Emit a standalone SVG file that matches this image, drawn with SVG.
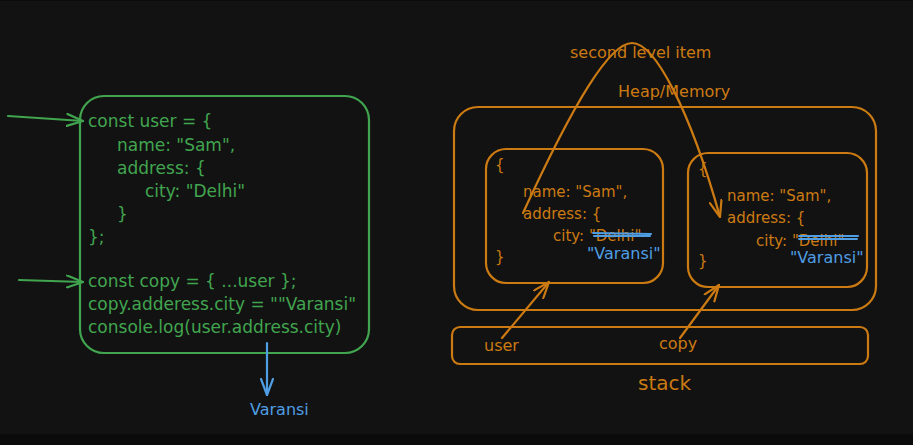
<svg xmlns="http://www.w3.org/2000/svg" width="913" height="445" viewBox="0 0 913 445">
<defs>
<style>
.bg{fill:#121212}
.g{fill:#41a54f;font-family:"DejaVu Sans",sans-serif;font-size:17px}
.o{fill:#cc7a12;font-family:"DejaVu Sans",sans-serif;font-size:15px}
.ol{fill:#cc7a12;font-family:"DejaVu Sans",sans-serif;font-size:16px}
.b{fill:#4f9ee3;font-family:"DejaVu Sans",sans-serif;font-size:16px}
.gbox{fill:none;stroke:#41a54f;stroke-width:2.2}
.obox{fill:none;stroke:#cc7a12;stroke-width:2.2}
.ga{fill:none;stroke:#41a54f;stroke-width:2.2;stroke-linecap:round;marker-end:url(#mg)}
.oa{fill:none;stroke:#cc7a12;stroke-width:2.2;stroke-linecap:round;marker-end:url(#mo)}
.ba{fill:none;stroke:#4f9ee3;stroke-width:2.2;stroke-linecap:round;marker-end:url(#mb)}
.strike{stroke:#4f9ee3;stroke-width:2;stroke-linecap:round}
</style>
<marker id="mg" viewBox="0 0 18 14" refX="17" refY="7" markerWidth="18" markerHeight="14" markerUnits="userSpaceOnUse" orient="auto"><path d="M1,1 L17,7 L1,13" fill="none" stroke="#41a54f" stroke-width="2.2" stroke-linecap="round" stroke-linejoin="round"/></marker>
<marker id="mo" viewBox="0 0 18 14" refX="17" refY="7" markerWidth="18" markerHeight="14" markerUnits="userSpaceOnUse" orient="auto"><path d="M1,1 L17,7 L1,13" fill="none" stroke="#cc7a12" stroke-width="2.2" stroke-linecap="round" stroke-linejoin="round"/></marker>
<marker id="mb" viewBox="0 0 18 14" refX="17" refY="7" markerWidth="18" markerHeight="14" markerUnits="userSpaceOnUse" orient="auto"><path d="M1,1 L17,7 L1,13" fill="none" stroke="#4f9ee3" stroke-width="2.2" stroke-linecap="round" stroke-linejoin="round"/></marker>
</defs>
<rect class="bg" x="0" y="0" width="913" height="445"/>
<rect x="0" y="434" width="913" height="11" fill="#0b0b0b"/>
<rect x="0" y="0" width="913" height="1" fill="#0b0b0b"/>

<g id="code-box">
<rect class="gbox" x="80" y="96" width="289" height="257" rx="24"/>
<text class="g" x="88" y="127">const user = {</text>
<text class="g" x="117" y="151">name: "Sam",</text>
<text class="g" x="117" y="174">address: {</text>
<text class="g" x="145" y="197">city: "Delhi"</text>
<text class="g" x="117" y="220">}</text>
<text class="g" x="88" y="243">};</text>
<text class="g" x="88" y="287">const copy = { ...user };</text>
<text class="g" x="88" y="310">copy.adderess.city = ""Varansi"</text>
<text class="g" x="88" y="333">console.log(user.address.city)</text>
</g>

<g id="output">
<text class="b" x="250" y="415">Varansi</text>
</g>

<g id="heap">
<rect class="obox" x="454" y="107" width="422" height="203" rx="24"/>
<text class="ol" x="618" y="97">Heap/Memory</text>
</g>

<g id="user-object">
<rect class="obox" x="486" y="149" width="177" height="134" rx="20"/>
<text class="o" x="495" y="170">{</text>
<text class="o" x="523" y="197">name: "Sam",</text>
<text class="o" x="523" y="219">address: {</text>
<text class="o" x="553" y="241">city: "Delhi"</text>
<line class="strike" x1="593" y1="233" x2="651" y2="234"/>
<line class="strike" x1="594" y1="236" x2="650" y2="236"/>
<text class="b" x="587" y="259">"Varansi"</text>
<text class="o" x="495" y="262">}</text>
</g>

<g id="copy-object">
<rect class="obox" x="688" y="153" width="179" height="134" rx="20"/>
<text class="o" x="698" y="174">{</text>
<text class="o" x="727" y="201">name: "Sam",</text>
<text class="o" x="727" y="223">address: {</text>
<text class="o" x="756" y="246">city: "Delhi"</text>
<line class="strike" x1="799" y1="236" x2="858" y2="236"/>
<line class="strike" x1="799" y1="239" x2="857" y2="239"/>
<text class="b" x="790" y="263">"Varansi"</text>
<text class="o" x="698" y="266">}</text>
</g>

<g id="stack">
<rect class="obox" x="452" y="327" width="416" height="37" rx="8"/>
<text class="ol" x="484" y="351">user</text>
<text class="ol" x="659" y="349">copy</text>
<text class="ol" x="638" y="390" style="font-size:20px">stack</text>
</g>

<g id="labels">
<text class="ol" x="570" y="58">second level item</text>
</g>

<g id="connectors">
<path class="ga" d="M8,116 L83,121"/>
<path class="ga" d="M19,280 L83,282"/>
<path class="ba" d="M267,343 L267,395"/>
<path class="oa" d="M523,213 C575,100 610,43 632,43 C655,43 690,110 720,217"/>
<path class="oa" d="M502,338 L549,282"/>
<path class="oa" d="M680,338 L719,285"/>
</g>
</svg>
